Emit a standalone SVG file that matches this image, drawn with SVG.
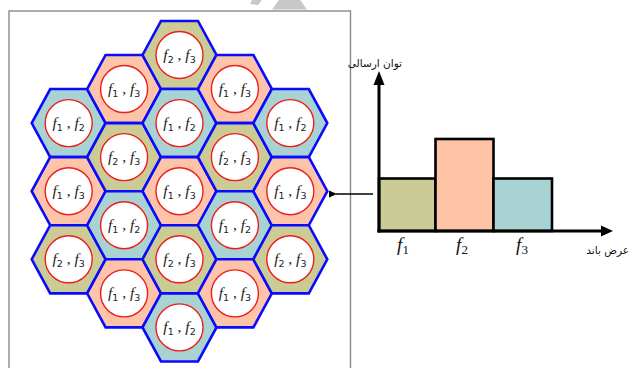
<svg xmlns="http://www.w3.org/2000/svg" xmlns:xlink="http://www.w3.org/1999/xlink" width="630" height="368" viewBox="0 0 630 368">
<style>
.hex{stroke:#0a0aff;stroke-width:2.6;stroke-linejoin:miter}
.c12{fill:#a8d3d2}
.c13{fill:#fdc4a9}
.c23{fill:#cbcb95}
.cir{fill:#fff;stroke:#ee1c1c;stroke-width:1.4}
.lbl{font-family:"Liberation Serif",serif;font-size:15.5px;fill:#222;text-anchor:middle}
.it{font-style:italic}
.sub{font-family:"DejaVu Sans",sans-serif;font-size:9.5px}
.fa{font-family:"DejaVu Sans",sans-serif;font-size:10.5px;fill:#111;text-anchor:end}
.ax{stroke:#000;stroke-width:3;fill:none}
.bar{stroke:#000;stroke-width:2.6}
.fl{font-family:"Liberation Serif",serif;font-size:19px;fill:#111;text-anchor:middle}
</style>
<defs>
<polygon id="hx" points="-37,0 -18.5,-34.05 18.5,-34.05 37,0 18.5,34.05 -18.5,34.05"/>
<marker id="ah" markerWidth="8" markerHeight="8" refX="1" refY="4" orient="auto" markerUnits="userSpaceOnUse"><polygon points="8,0.5 0,4 8,7.5" fill="#000"/></marker>
</defs>
<rect width="630" height="368" fill="#fff"/>
<g id="watermark" fill="#c8c8c8">
<polygon points="279,0 300,0 307,9.5 272,9.5"/>
<polygon points="252,0 262,0 258,5 250,4"/>
</g>
<rect id="frame" x="9" y="11" width="341.5" height="380" fill="none" stroke="#8a8a8a" stroke-width="1.4"/>
<g id="cells">
<g id="h0a"><use xlink:href="#hx" class="hex c12" x="68.7" y="123.1"/><circle class="cir" cx="68.7" cy="123.1" r="23.5"/><text class="lbl" x="68.7" y="128"><tspan class="it">f</tspan><tspan class="sub" dy="3">1</tspan><tspan dy="-3"> , </tspan><tspan class="it">f</tspan><tspan class="sub" dy="3">2</tspan></text></g>
<g id="h0b"><use xlink:href="#hx" class="hex c13" x="68.7" y="191.2"/><circle class="cir" cx="68.7" cy="191.2" r="23.5"/><text class="lbl" x="68.7" y="196.1"><tspan class="it">f</tspan><tspan class="sub" dy="3">1</tspan><tspan dy="-3"> , </tspan><tspan class="it">f</tspan><tspan class="sub" dy="3">3</tspan></text></g>
<g id="h0c"><use xlink:href="#hx" class="hex c23" x="68.7" y="259.3"/><circle class="cir" cx="68.7" cy="259.3" r="23.5"/><text class="lbl" x="68.7" y="264.2"><tspan class="it">f</tspan><tspan class="sub" dy="3">2</tspan><tspan dy="-3"> , </tspan><tspan class="it">f</tspan><tspan class="sub" dy="3">3</tspan></text></g>
<g id="h1a"><use xlink:href="#hx" class="hex c13" x="124.1" y="89.05"/><circle class="cir" cx="124.1" cy="89.05" r="23.5"/><text class="lbl" x="124.1" y="94"><tspan class="it">f</tspan><tspan class="sub" dy="3">1</tspan><tspan dy="-3"> , </tspan><tspan class="it">f</tspan><tspan class="sub" dy="3">3</tspan></text></g>
<g id="h1b"><use xlink:href="#hx" class="hex c23" x="124.1" y="157.15"/><circle class="cir" cx="124.1" cy="157.15" r="23.5"/><text class="lbl" x="124.1" y="162.1"><tspan class="it">f</tspan><tspan class="sub" dy="3">2</tspan><tspan dy="-3"> , </tspan><tspan class="it">f</tspan><tspan class="sub" dy="3">3</tspan></text></g>
<g id="h1c"><use xlink:href="#hx" class="hex c12" x="124.1" y="225.25"/><circle class="cir" cx="124.1" cy="225.25" r="23.5"/><text class="lbl" x="124.1" y="230.2"><tspan class="it">f</tspan><tspan class="sub" dy="3">1</tspan><tspan dy="-3"> , </tspan><tspan class="it">f</tspan><tspan class="sub" dy="3">2</tspan></text></g>
<g id="h1d"><use xlink:href="#hx" class="hex c13" x="124.1" y="293.35"/><circle class="cir" cx="124.1" cy="293.35" r="23.5"/><text class="lbl" x="124.1" y="298.3"><tspan class="it">f</tspan><tspan class="sub" dy="3">1</tspan><tspan dy="-3"> , </tspan><tspan class="it">f</tspan><tspan class="sub" dy="3">3</tspan></text></g>
<g id="h2a"><use xlink:href="#hx" class="hex c23" x="179.5" y="55"/><circle class="cir" cx="179.5" cy="55" r="23.5"/><text class="lbl" x="179.5" y="59.9"><tspan class="it">f</tspan><tspan class="sub" dy="3">2</tspan><tspan dy="-3"> , </tspan><tspan class="it">f</tspan><tspan class="sub" dy="3">3</tspan></text></g>
<g id="h2b"><use xlink:href="#hx" class="hex c12" x="179.5" y="123.1"/><circle class="cir" cx="179.5" cy="123.1" r="23.5"/><text class="lbl" x="179.5" y="128"><tspan class="it">f</tspan><tspan class="sub" dy="3">1</tspan><tspan dy="-3"> , </tspan><tspan class="it">f</tspan><tspan class="sub" dy="3">2</tspan></text></g>
<g id="h2c"><use xlink:href="#hx" class="hex c13" x="179.5" y="191.2"/><circle class="cir" cx="179.5" cy="191.2" r="23.5"/><text class="lbl" x="179.5" y="196.1"><tspan class="it">f</tspan><tspan class="sub" dy="3">1</tspan><tspan dy="-3"> , </tspan><tspan class="it">f</tspan><tspan class="sub" dy="3">3</tspan></text></g>
<g id="h2d"><use xlink:href="#hx" class="hex c23" x="179.5" y="259.3"/><circle class="cir" cx="179.5" cy="259.3" r="23.5"/><text class="lbl" x="179.5" y="264.2"><tspan class="it">f</tspan><tspan class="sub" dy="3">2</tspan><tspan dy="-3"> , </tspan><tspan class="it">f</tspan><tspan class="sub" dy="3">3</tspan></text></g>
<g id="h2e"><use xlink:href="#hx" class="hex c12" x="179.5" y="327.4"/><circle class="cir" cx="179.5" cy="327.4" r="23.5"/><text class="lbl" x="179.5" y="332.3"><tspan class="it">f</tspan><tspan class="sub" dy="3">1</tspan><tspan dy="-3"> , </tspan><tspan class="it">f</tspan><tspan class="sub" dy="3">2</tspan></text></g>
<g id="h3a"><use xlink:href="#hx" class="hex c13" x="234.9" y="89.05"/><circle class="cir" cx="234.9" cy="89.05" r="23.5"/><text class="lbl" x="234.9" y="94"><tspan class="it">f</tspan><tspan class="sub" dy="3">1</tspan><tspan dy="-3"> , </tspan><tspan class="it">f</tspan><tspan class="sub" dy="3">3</tspan></text></g>
<g id="h3b"><use xlink:href="#hx" class="hex c23" x="234.9" y="157.15"/><circle class="cir" cx="234.9" cy="157.15" r="23.5"/><text class="lbl" x="234.9" y="162.1"><tspan class="it">f</tspan><tspan class="sub" dy="3">2</tspan><tspan dy="-3"> , </tspan><tspan class="it">f</tspan><tspan class="sub" dy="3">3</tspan></text></g>
<g id="h3c"><use xlink:href="#hx" class="hex c12" x="234.9" y="225.25"/><circle class="cir" cx="234.9" cy="225.25" r="23.5"/><text class="lbl" x="234.9" y="230.2"><tspan class="it">f</tspan><tspan class="sub" dy="3">1</tspan><tspan dy="-3"> , </tspan><tspan class="it">f</tspan><tspan class="sub" dy="3">2</tspan></text></g>
<g id="h3d"><use xlink:href="#hx" class="hex c13" x="234.9" y="293.35"/><circle class="cir" cx="234.9" cy="293.35" r="23.5"/><text class="lbl" x="234.9" y="298.3"><tspan class="it">f</tspan><tspan class="sub" dy="3">1</tspan><tspan dy="-3"> , </tspan><tspan class="it">f</tspan><tspan class="sub" dy="3">3</tspan></text></g>
<g id="h4a"><use xlink:href="#hx" class="hex c12" x="290.3" y="123.1"/><circle class="cir" cx="290.3" cy="123.1" r="23.5"/><text class="lbl" x="290.3" y="128"><tspan class="it">f</tspan><tspan class="sub" dy="3">1</tspan><tspan dy="-3"> , </tspan><tspan class="it">f</tspan><tspan class="sub" dy="3">2</tspan></text></g>
<g id="h4b"><use xlink:href="#hx" class="hex c13" x="290.3" y="191.2"/><circle class="cir" cx="290.3" cy="191.2" r="23.5"/><text class="lbl" x="290.3" y="196.1"><tspan class="it">f</tspan><tspan class="sub" dy="3">1</tspan><tspan dy="-3"> , </tspan><tspan class="it">f</tspan><tspan class="sub" dy="3">3</tspan></text></g>
<g id="h4c"><use xlink:href="#hx" class="hex c23" x="290.3" y="259.3"/><circle class="cir" cx="290.3" cy="259.3" r="23.5"/><text class="lbl" x="290.3" y="264.2"><tspan class="it">f</tspan><tspan class="sub" dy="3">2</tspan><tspan dy="-3"> , </tspan><tspan class="it">f</tspan><tspan class="sub" dy="3">3</tspan></text></g>
</g>
<g id="chart">
<rect class="bar" x="379" y="178.5" width="56.5" height="52.5" fill="#cbcb95"/>
<rect class="bar" x="435.5" y="139" width="58" height="92" fill="#fdc4a6"/>
<rect class="bar" x="493.5" y="178.5" width="58.5" height="52.5" fill="#a8d3d2"/>
<line class="ax" x1="379" y1="232.5" x2="379" y2="84"/>
<polygon points="379,71 373.5,85 384.5,85" fill="#000"/>
<line class="ax" x1="377.5" y1="231" x2="602" y2="231"/>
<polygon points="613,231 601,225.5 601,236.5" fill="#000"/>
<text class="fl" x="403" y="251"><tspan class="it">f</tspan><tspan font-size="13" dy="3">1</tspan></text>
<text class="fl" x="462" y="251"><tspan class="it">f</tspan><tspan font-size="13" dy="3">2</tspan></text>
<text class="fl" x="522" y="251"><tspan class="it">f</tspan><tspan font-size="13" dy="3">3</tspan></text>
<text class="fa" x="402" y="67">توان ارسالی</text>
<text class="fa" x="629" y="254">عرض باند</text>
</g>
<g id="connectors">
<line x1="373" y1="194" x2="336" y2="194" stroke="#000" stroke-width="1.6" marker-end="url(#ah)"/>
</g>
</svg>
